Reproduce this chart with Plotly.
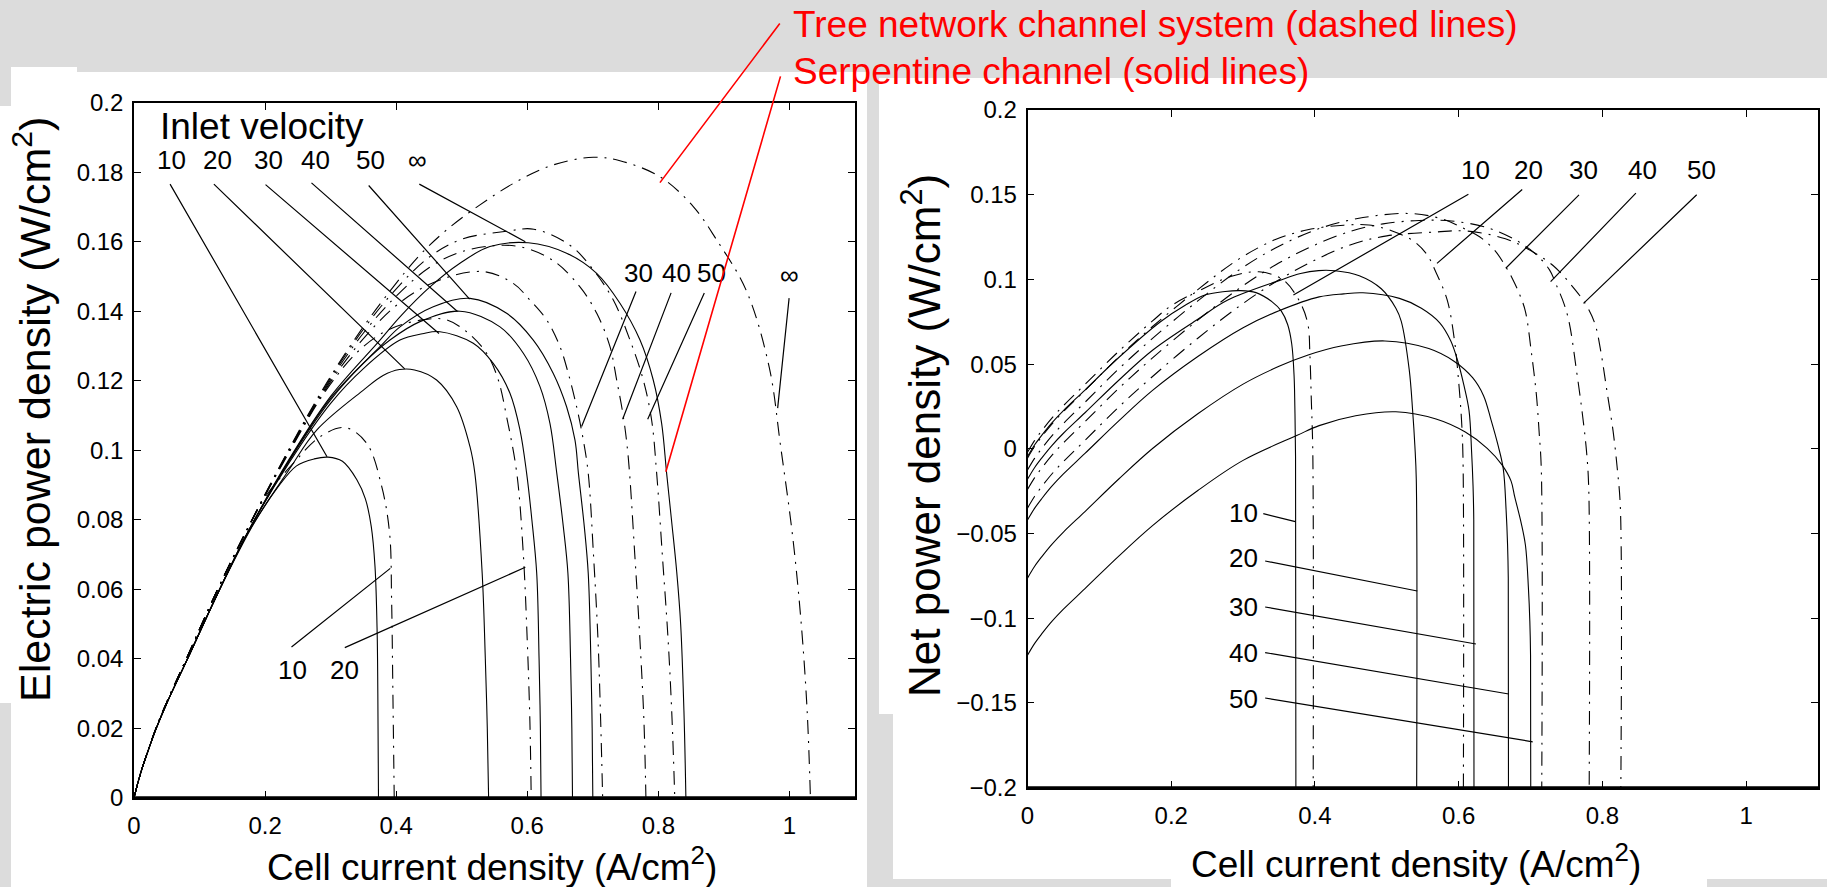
import plotly.graph_objects as go

FONT = "Liberation Sans, Arial, Helvetica, sans-serif"

# ---------------- LEFT PANEL: electric power density vs current density ----------------
# Serpentine channel (solid lines)
x_s10 = [0, 0.01, 0.02, 0.0336, 0.05, 0.08, 0.127, 0.1846, 0.22, 0.248, 0.275, 0.296, 0.318, 0.34, 0.353, 0.362, 0.3677, 0.371, 0.372, 0.373]
p_s10 = [0, 0.007, 0.0127, 0.0198, 0.0272, 0.0393, 0.0585, 0.0795, 0.0895, 0.0955, 0.0975, 0.098, 0.0968, 0.0915, 0.086, 0.078, 0.0665, 0.0473, 0.03, 0]

x_s20 = [0, 0.01, 0.02, 0.0336, 0.05, 0.08, 0.127, 0.174, 0.237, 0.2787, 0.35, 0.38, 0.405, 0.428, 0.4617, 0.4923, 0.5126, 0.52, 0.5312, 0.536, 0.539, 0.541]
p_s20 = [0, 0.007, 0.0127, 0.0198, 0.0272, 0.0393, 0.0585, 0.0762, 0.0945, 0.1058, 0.1173, 0.1215, 0.1232, 0.1231, 0.1202, 0.1125, 0.101, 0.0934, 0.0646, 0.04, 0.02, 0]

x_s30 = [0, 0.01, 0.02, 0.0336, 0.05, 0.08, 0.127, 0.174, 0.237, 0.3, 0.35, 0.4058, 0.44, 0.4668, 0.5176, 0.5481, 0.5736, 0.5889, 0.599, 0.607, 0.6144, 0.618, 0.62, 0.621]
p_s30 = [0, 0.007, 0.0127, 0.0198, 0.0272, 0.0393, 0.0585, 0.0765, 0.0965, 0.1135, 0.1235, 0.1317, 0.1335, 0.1341, 0.1308, 0.125, 0.1164, 0.1058, 0.0934, 0.08, 0.0646, 0.04, 0.02, 0]

x_s40 = [0, 0.01, 0.02, 0.0336, 0.05, 0.08, 0.127, 0.174, 0.237, 0.3, 0.35, 0.3905, 0.4363, 0.4973, 0.5584, 0.594, 0.6194, 0.6346, 0.645, 0.655, 0.662, 0.666, 0.668, 0.669]
p_s40 = [0, 0.007, 0.0127, 0.0198, 0.0272, 0.0393, 0.0585, 0.0765, 0.097, 0.1145, 0.125, 0.1317, 0.137, 0.140, 0.1355, 0.1279, 0.1183, 0.1077, 0.0934, 0.078, 0.0646, 0.04, 0.02, 0]

x_s50 = [0, 0.01, 0.02, 0.0336, 0.05, 0.08, 0.127, 0.174, 0.237, 0.3, 0.3753, 0.4058, 0.4566, 0.5126, 0.5685, 0.6092, 0.6397, 0.66, 0.6728, 0.678, 0.687, 0.693, 0.697, 0.699, 0.700]
p_s50 = [0, 0.007, 0.0127, 0.0198, 0.0272, 0.0393, 0.0585, 0.0765, 0.0972, 0.115, 0.1298, 0.1355, 0.1413, 0.1437, 0.1394, 0.1317, 0.1221, 0.1125, 0.1029, 0.0934, 0.078, 0.0646, 0.04, 0.02, 0]

x_sinf = [0, 0.01, 0.02, 0.0336, 0.05, 0.08, 0.127, 0.174, 0.237, 0.3, 0.3753, 0.4058, 0.4516, 0.4973, 0.543, 0.6016, 0.66, 0.7059, 0.7414, 0.772, 0.7922, 0.805, 0.8126, 0.82, 0.828, 0.834, 0.839, 0.842]
p_sinf = [0, 0.007, 0.0127, 0.0198, 0.0272, 0.0393, 0.0585, 0.0765, 0.0975, 0.1155, 0.1317, 0.1384, 0.147, 0.1538, 0.1586, 0.1597, 0.1567, 0.1509, 0.1423, 0.1317, 0.1202, 0.1077, 0.0934, 0.08, 0.065, 0.05, 0.025, 0]

# Tree network channel system (dashed lines)
x_t10 = [0, 0.01, 0.02, 0.0336, 0.05, 0.08, 0.127, 0.174, 0.2, 0.243, 0.284, 0.322, 0.355, 0.378, 0.39, 0.393, 0.395, 0.397]
p_t10 = [0, 0.007, 0.0128, 0.02, 0.0275, 0.04, 0.0596, 0.0775, 0.0865, 0.0962, 0.1039, 0.1065, 0.102, 0.0895, 0.076, 0.057, 0.03, 0]

x_t20 = [0, 0.01, 0.02, 0.0336, 0.05, 0.08, 0.127, 0.174, 0.237, 0.294, 0.345, 0.39, 0.44, 0.475, 0.5075, 0.538, 0.5558, 0.5685, 0.584, 0.594, 0.6, 0.604, 0.606]
p_t20 = [0, 0.007, 0.0128, 0.02, 0.0275, 0.04, 0.0597, 0.0777, 0.0995, 0.1175, 0.129, 0.1348, 0.1375, 0.1376, 0.1341, 0.1279, 0.1202, 0.1096, 0.0934, 0.07, 0.045, 0.022, 0]

x_t30 = [0, 0.01, 0.02, 0.0336, 0.05, 0.08, 0.127, 0.174, 0.237, 0.294, 0.345, 0.4058, 0.4668, 0.5329, 0.5786, 0.6041, 0.6296, 0.6499, 0.6626, 0.6753, 0.6855, 0.693, 0.701, 0.708, 0.712, 0.715]
p_t30 = [0, 0.007, 0.0128, 0.02, 0.0275, 0.04, 0.0597, 0.0777, 0.0998, 0.118, 0.131, 0.1425, 0.149, 0.1514, 0.148, 0.1432, 0.1375, 0.1298, 0.1221, 0.1125, 0.1029, 0.0934, 0.07, 0.045, 0.022, 0]

x_t40 = [0, 0.01, 0.02, 0.0336, 0.05, 0.08, 0.127, 0.174, 0.237, 0.294, 0.345, 0.3956, 0.45, 0.4948, 0.545, 0.59, 0.64, 0.6804, 0.706, 0.7262, 0.7364, 0.7466, 0.754, 0.764, 0.772, 0.778, 0.781]
p_t40 = [0, 0.007, 0.0128, 0.02, 0.0275, 0.04, 0.0597, 0.0777, 0.1, 0.1185, 0.1325, 0.1435, 0.1525, 0.1568, 0.1588, 0.1585, 0.1545, 0.147, 0.1394, 0.1298, 0.1202, 0.1096, 0.0981, 0.07, 0.045, 0.022, 0]

x_t50 = [0, 0.01, 0.02, 0.0336, 0.05, 0.08, 0.127, 0.174, 0.237, 0.294, 0.345, 0.3956, 0.45, 0.5, 0.5685, 0.61, 0.665, 0.7007, 0.7313, 0.7567, 0.777, 0.7897, 0.7974, 0.806, 0.815, 0.821, 0.825]
p_t50 = [0, 0.007, 0.0128, 0.02, 0.0275, 0.04, 0.0597, 0.0777, 0.1003, 0.119, 0.1335, 0.1455, 0.1555, 0.1607, 0.163, 0.1636, 0.159, 0.1519, 0.1432, 0.1317, 0.1202, 0.1087, 0.0934, 0.07, 0.045, 0.022, 0]

x_tinf = [0, 0.01, 0.02, 0.0336, 0.05, 0.08, 0.127, 0.174, 0.237, 0.294, 0.345, 0.3956, 0.4363, 0.477, 0.5278, 0.5838, 0.6397, 0.7007, 0.7414, 0.8024, 0.8533, 0.889, 0.934, 0.969, 0.9866, 1.005, 1.018, 1.027, 1.032]
p_tinf = [0, 0.007, 0.0128, 0.02, 0.0275, 0.04, 0.0597, 0.0778, 0.1005, 0.1194, 0.1342, 0.147, 0.1562, 0.1634, 0.1706, 0.1773, 0.1821, 0.1843, 0.1833, 0.1787, 0.1701, 0.1605, 0.146, 0.124, 0.101, 0.075, 0.05, 0.025, 0]

# ---------------- RIGHT PANEL: net power density vs current density ----------------
nx_s10 = x_s10 + [0.3735]
n_s10 = [-0.0046, 0.0024, 0.0081, 0.0152, 0.0226, 0.0347, 0.0539, 0.0749, 0.0849, 0.0909, 0.0929, 0.0934, 0.0922, 0.0869, 0.0814, 0.0734, 0.0619, 0.0427, 0.0254, -0.0046, -0.21]
nx_s20 = x_s20 + [0.5415]
n_s20 = [-0.018, -0.011, -0.0053, 0.0018, 0.0092, 0.0213, 0.0405, 0.0582, 0.0765, 0.0878, 0.0993, 0.1035, 0.1052, 0.1051, 0.1022, 0.0945, 0.083, 0.0754, 0.0466, 0.022, 0.002, -0.018, -0.21]
nx_s30 = x_s30 + [0.6213]
n_s30 = [-0.042, -0.035, -0.0293, -0.0222, -0.0148, -0.0027, 0.0165, 0.0345, 0.0545, 0.0715, 0.0815, 0.0897, 0.0915, 0.0921, 0.0888, 0.083, 0.0744, 0.0638, 0.0514, 0.038, 0.0226, -0.002, -0.022, -0.042, -0.21]
nx_s40 = x_s40 + [0.6693]
n_s40 = [-0.0763, -0.0693, -0.0636, -0.0565, -0.0491, -0.037, -0.0178, 0.0002, 0.0207, 0.0382, 0.0487, 0.0554, 0.0607, 0.0637, 0.0592, 0.0516, 0.042, 0.0314, 0.0171, 0.0017, -0.0117, -0.0363, -0.0563, -0.0763, -0.21]
nx_s50 = x_s50 + [0.7003]
n_s50 = [-0.1218, -0.1148, -0.1091, -0.102, -0.0946, -0.0825, -0.0633, -0.0453, -0.0246, -0.0068, 0.008, 0.0137, 0.0195, 0.0219, 0.0176, 0.0099, 0.0003, -0.0093, -0.0189, -0.0284, -0.0438, -0.0572, -0.0818, -0.1018, -0.1218, -0.21]

nx_t10 = x_t10 + [0.3975]
n_t10 = [-0.002, 0.005, 0.0108, 0.018, 0.0255, 0.038, 0.0576, 0.0755, 0.0845, 0.0942, 0.1019, 0.1045, 0.1, 0.0875, 0.074, 0.055, 0.028, -0.002, -0.21]
nx_t20 = x_t20 + [0.6065]
n_t20 = [-0.0055, 0.0015, 0.0073, 0.0145, 0.022, 0.0345, 0.0542, 0.0722, 0.094, 0.112, 0.1235, 0.1293, 0.132, 0.1321, 0.1286, 0.1224, 0.1147, 0.1041, 0.0879, 0.0645, 0.0395, 0.0165, -0.0055, -0.21]
nx_t30 = x_t30 + [0.7155]
n_t30 = [-0.0125, -0.0055, 0.0003, 0.0075, 0.015, 0.0275, 0.0472, 0.0652, 0.0873, 0.1055, 0.1185, 0.13, 0.1365, 0.1389, 0.1355, 0.1307, 0.125, 0.1173, 0.1096, 0.1, 0.0904, 0.0809, 0.0575, 0.0325, 0.0095, -0.0125, -0.21]
nx_t40 = x_t40 + [0.7815]
n_t40 = [-0.024, -0.017, -0.0112, -0.004, 0.0035, 0.016, 0.0357, 0.0537, 0.076, 0.0945, 0.1085, 0.1195, 0.1285, 0.1328, 0.1348, 0.1345, 0.1305, 0.123, 0.1154, 0.1058, 0.0962, 0.0856, 0.0741, 0.046, 0.021, -0.002, -0.024, -0.21]
nx_t50 = x_t50 + [0.8255]
n_t50 = [-0.035, -0.028, -0.0222, -0.015, -0.0075, 0.005, 0.0247, 0.0427, 0.0653, 0.084, 0.0985, 0.1105, 0.1205, 0.1257, 0.128, 0.1286, 0.124, 0.1169, 0.1082, 0.0967, 0.0852, 0.0737, 0.0584, 0.035, 0.01, -0.013, -0.035, -0.21]

x_ticks = [0, 0.2, 0.4, 0.6, 0.8, 1]

# ---------------- figure ----------------
fig = go.Figure()
SOLID = dict(color="black", width=1.1, shape="spline", smoothing=1.0)
DASH = dict(color="black", width=1.1, shape="spline", smoothing=1.0, dash="14px,7px,2px,7px")

left_solid = [(x_s10, p_s10), (x_s20, p_s20), (x_s30, p_s30), (x_s40, p_s40), (x_s50, p_s50), (x_sinf, p_sinf)]
left_tree = [(x_t10, p_t10), (x_t20, p_t20), (x_t30, p_t30), (x_t40, p_t40), (x_t50, p_t50), (x_tinf, p_tinf)]
for xs, ys in left_solid:
    fig.add_trace(go.Scatter(x=xs, y=ys, mode="lines", line=SOLID, xaxis="x", yaxis="y", showlegend=False, hoverinfo="skip"))
for xs, ys in left_tree:
    fig.add_trace(go.Scatter(x=xs, y=ys, mode="lines", line=DASH, xaxis="x", yaxis="y", showlegend=False, hoverinfo="skip"))

right_solid = [(nx_s10, n_s10), (nx_s20, n_s20), (nx_s30, n_s30), (nx_s40, n_s40), (nx_s50, n_s50)]
right_tree = [(nx_t10, n_t10), (nx_t20, n_t20), (nx_t30, n_t30), (nx_t40, n_t40), (nx_t50, n_t50)]
for xs, ys in right_solid:
    fig.add_trace(go.Scatter(x=xs, y=ys, mode="lines", line=SOLID, xaxis="x2", yaxis="y2", showlegend=False, hoverinfo="skip"))
for xs, ys in right_tree:
    fig.add_trace(go.Scatter(x=xs, y=ys, mode="lines", line=DASH, xaxis="x2", yaxis="y2", showlegend=False, hoverinfo="skip"))

W, H = 1827, 887
def px(x):
    return x / W
def py(y):
    return 1 - y / H

LX = [px(134), px(855)]
LY = [py(797.7), py(102.7)]
RX = [px(1027.5), px(1818)]
RY = [py(787.7), py(110)]

axis_common = dict(showgrid=False, zeroline=False, showline=True, linecolor="black", linewidth=1.6,
                   ticks="inside", ticklen=7, tickwidth=1, tickcolor="black", mirror="ticks",
                   tickfont=dict(family=FONT, size=24, color="black"))

fig.update_layout(
    width=W, height=H, autosize=False,
    margin=dict(l=0, r=0, t=0, b=0, pad=0, autoexpand=False),
    paper_bgcolor="#dcdcdc", plot_bgcolor="white",
    xaxis=dict(domain=LX, range=[0, 1.1], tickvals=x_ticks, anchor="y", ticklabelstandoff=6, automargin=False, **axis_common),
    yaxis=dict(domain=LY, range=[0, 0.2], dtick=0.02, tick0=0, anchor="x", ticklabelstandoff=4, automargin=False, **axis_common),
    xaxis2=dict(domain=RX, range=[0, 1.1], tickvals=x_ticks, anchor="y2", ticklabelstandoff=6, automargin=False, **axis_common),
    yaxis2=dict(domain=RY, range=[-0.2, 0.2], dtick=0.05, tick0=0, anchor="x2", ticklabelstandoff=4, automargin=False, **axis_common),
)

# background panels (white regions of the slide)
panels = [
    (11, 867, 72, 887), (11, 77, 67, 72), (0, 11, 106, 703),
    (879, 1827, 78, 714), (893, 1827, 714, 879), (1171, 1707, 879, 887),
]
shapes = []
for x0, x1, y0, y1 in panels:
    shapes.append(dict(type="rect", xref="paper", yref="paper", x0=px(x0), x1=px(x1), y0=py(y1), y1=py(y0),
                       fillcolor="white", line=dict(width=0), layer="below"))
# thicker bottom axis lines
shapes.append(dict(type="line", xref="paper", yref="paper", x0=LX[0], x1=LX[1], y0=LY[0], y1=LY[0], line=dict(color="black", width=3)))
shapes.append(dict(type="line", xref="paper", yref="paper", x0=RX[0], x1=RX[1], y0=RY[0], y1=RY[0], line=dict(color="black", width=3)))
fig.update_layout(shapes=shapes)

ann = []
def label(text, x, y, xr="x", yr="y", size=26, anchor="center"):
    ann.append(dict(text=text, x=x, y=y, xref=xr, yref=yr, showarrow=False, xanchor=anchor, yanchor="middle",
                    font=dict(family=FONT, size=size, color="black")))
def leader(x0, y0, x1, y1, xr="x", yr="y", color="black", w=1.2):
    ann.append(dict(text="", x=x1, y=y1, ax=x0, ay=y0, xref=xr, yref=yr, axref=xr, ayref=yr,
                    showarrow=True, arrowhead=0, arrowwidth=w, arrowcolor=color, standoff=0, startstandoff=0))

# left panel labels
label("Inlet velocity", 0.0364, 0.1931, size=37, anchor="left")
top_lbl = ["10", "20", "30", "40", "50", "\u221e"]
top_x = [0.0566, 0.128, 0.2045, 0.277, 0.361, 0.433]
for t, x in zip(top_lbl, top_x):
    label(t, x, 0.1835)
top_leaders = [(0.0537, 0.177, 0.2945, 0.0981), (0.1196, 0.177, 0.413, 0.1234), (0.1984, 0.1768, 0.4653, 0.1336),
               (0.2685, 0.1773, 0.4935, 0.1399), (0.356, 0.1766, 0.512, 0.1435), (0.433, 0.1768, 0.597, 0.16)]
for l in top_leaders:
    leader(*l)
label("10", 0.2422, 0.0368)
label("20", 0.321, 0.0368)
leader(0.238, 0.043, 0.391, 0.066)
leader(0.3193, 0.043, 0.597, 0.0663)
for t, x in zip(["30", "40", "50"], [0.770, 0.827, 0.8813]):
    label(t, x, 0.1511)
leader(0.7668, 0.1461, 0.6829, 0.1068)
leader(0.8203, 0.1457, 0.7455, 0.1089)
leader(0.8711, 0.1457, 0.7837, 0.1089)
label("\u221e", 1.0, 0.1504)
leader(0.9997, 0.1442, 0.982, 0.1121)

# red callouts
leader(0.987, 0.2232, 0.8024, 0.177, color="red", w=1.6)
leader(0.987, 0.2080, 0.8114, 0.0938, color="red", w=1.6)
ann.append(dict(text="Tree network channel system (dashed lines)", x=px(791), y=py(24), xref="paper", yref="paper",
                showarrow=False, xanchor="left", yanchor="middle", font=dict(family=FONT, size=37, color="red")))
ann.append(dict(text="Serpentine channel (solid lines)", x=px(791), y=py(72), xref="paper", yref="paper",
                showarrow=False, xanchor="left", yanchor="middle", font=dict(family=FONT, size=37, color="red")))

# right panel labels
for t, x in zip(["10", "20", "30", "40", "50"], [0.624, 0.697, 0.774, 0.856, 0.938]):
    label(t, x, 0.1646, xr="x2", yr="y2")
for l in [(0.6156, 0.1508, 0.370, 0.0908), (0.6905, 0.1538, 0.5698, 0.1095), (0.7695, 0.1508, 0.6655, 0.1066),
          (0.8486, 0.1518, 0.7279, 0.0987), (0.9333, 0.1508, 0.7737, 0.0859)]:
    leader(*l, xr="x2", yr="y2")
for t, y in zip(["10", "20", "30", "40", "50"], [-0.0377, -0.0646, -0.0932, -0.1203, -0.1479]):
    label(t, 0.300, y, xr="x2", yr="y2")
for l in [(0.326, -0.038, 0.3727, -0.043), (0.3286, -0.066, 0.5424, -0.0839), (0.3286, -0.0932, 0.624, -0.1152),
          (0.3286, -0.1201, 0.6697, -0.1447), (0.3286, -0.1469, 0.703, -0.1729)]:
    leader(*l, xr="x2", yr="y2")

# axis titles
ann.append(dict(text="Cell current density (A/cm<sup>2</sup>)", x=px(492), y=py(864), xref="paper", yref="paper",
                showarrow=False, xanchor="center", yanchor="middle", font=dict(family=FONT, size=37, color="black")))
ann.append(dict(text="Cell current density (A/cm<sup>2</sup>)", x=px(1416), y=py(861), xref="paper", yref="paper",
                showarrow=False, xanchor="center", yanchor="middle", font=dict(family=FONT, size=37, color="black")))
ann.append(dict(text="Electric power density (W/cm<sup>2</sup>)", x=px(32), y=py(410), xref="paper", yref="paper",
                showarrow=False, xanchor="center", yanchor="middle", textangle=-90, font=dict(family=FONT, size=43, color="black")))
ann.append(dict(text="Net power density (W/cm<sup>2</sup>)", x=px(922), y=py(436), xref="paper", yref="paper",
                showarrow=False, xanchor="center", yanchor="middle", textangle=-90, font=dict(family=FONT, size=44, color="black")))

fig.update_layout(annotations=ann)
fig.write_html("out.html", config={"displayModeBar": False},
               post_script="document.body.style.margin='0';document.body.style.overflow='hidden';")
